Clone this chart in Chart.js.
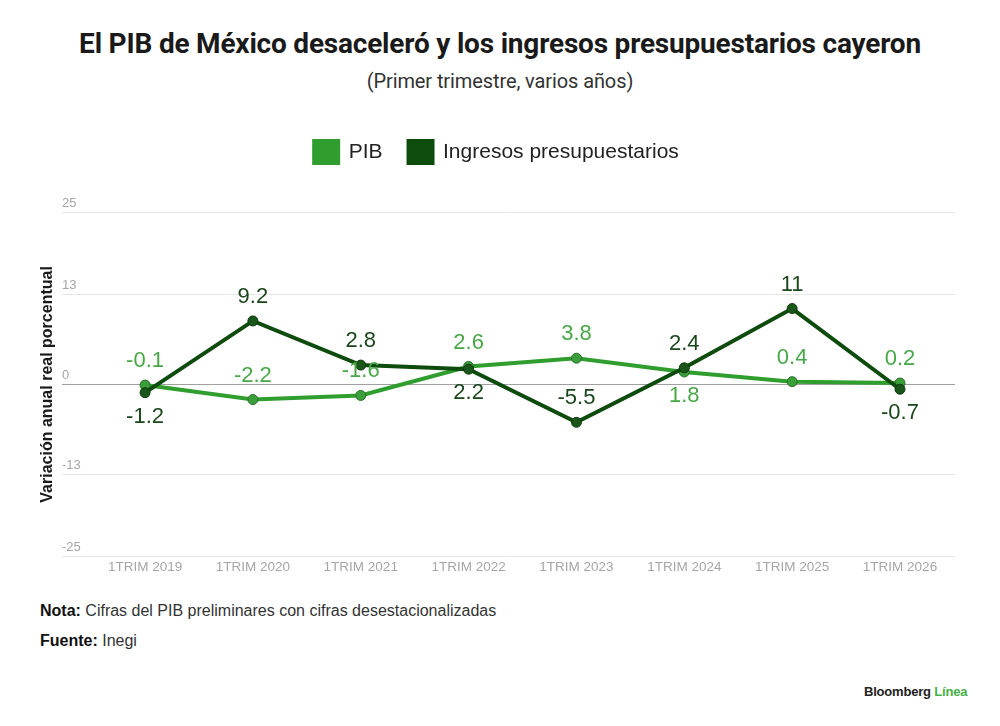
<!DOCTYPE html>
<html>
<head>
<meta charset="utf-8">
<script src="https://cdn.jsdelivr.net/npm/chart.js@4"></script>
<style>
  html, body { margin:0; padding:0; background:#fff; }
  #page { position:relative; width:1000px; height:726px; overflow:hidden; background:#fff; font-family:"Liberation Sans", Arial, sans-serif; color:#222; }
  #title { position:absolute; left:0; width:1000px; top:27px; text-align:center; font-family:Roboto, "Liberation Sans", sans-serif; font-weight:700; font-size:28px; letter-spacing:-0.2px; color:#1a1a1a; white-space:nowrap; }
  #subtitle { position:absolute; left:0; width:1000px; top:69px; text-align:center; font-family:Roboto, "Liberation Sans", sans-serif; font-size:20px; letter-spacing:-0.1px; color:#333; }
  #chartwrap { position:absolute; left:0; top:115px; width:1000px; height:470px; }
  .foot { position:absolute; left:40px; font-size:16px; color:#333; }
  .foot b { color:#111; }
  #brand { position:absolute; left:864px; top:684px; font-size:13px; font-weight:700; color:#222; letter-spacing:-0.2px; }
  #brand span { color:#45b045; font-weight:600; }
</style>
</head>
<body>
<div id="page">
  <div id="title">El PIB de México desaceleró y los ingresos presupuestarios cayeron</div>
  <div id="subtitle">(Primer trimestre, varios años)</div>
  <div id="chartwrap"><canvas id="c" width="1000" height="470"></canvas></div>
  <div class="foot" style="top:602px"><b>Nota:</b> Cifras del PIB preliminares con cifras desestacionalizadas</div>
  <div class="foot" style="top:632px"><b>Fuente:</b> Inegi</div>
  <div id="brand">Bloomberg <span>Línea</span></div>
</div>
<script>
const categories = ["1TRIM 2019","1TRIM 2020","1TRIM 2021","1TRIM 2022","1TRIM 2023","1TRIM 2024","1TRIM 2025","1TRIM 2026"];
const pib = [-0.1, -2.2, -1.6, 2.6, 3.8, 1.8, 0.4, 0.2];
const ingresos = [-1.2, 9.2, 2.8, 2.2, -5.5, 2.4, 11, -0.7];
const yTicks = [-25, -13, 0, 13, 25];
const seriesNames = ["PIB", "Ingresos presupuestarios"];

// label placement (style)
const pibLabelPos = ['above','above','above','above','above','below','above','above'];
const ingLabelPos = ['below','above','above','below','above','above','above','below'];

const PIB_COLOR = '#2f9e2f';
const ING_COLOR = '#0e4c0e';

const legendSpacing = {
  id: 'legendSpacing',
  beforeInit(chart) {
    const origFit = chart.legend.fit;
    chart.legend.fit = function () {
      origFit.bind(chart.legend)();
      this.height += 39;
    };
  }
};

const valueLabels = {
  id: 'valueLabels',
  afterDatasetsDraw(chart) {
    const ctx = chart.ctx;
    ctx.save();
    ctx.font = '22px "Liberation Sans", Arial, sans-serif';
    ctx.textAlign = 'center';
    ctx.textBaseline = 'middle';
    chart.data.datasets.forEach((ds, di) => {
      const meta = chart.getDatasetMeta(di);
      const pos = di === 0 ? pibLabelPos : ingLabelPos;
      ctx.fillStyle = di === 0 ? '#48a848' : '#1c461c';
      const src = di === 0 ? pib : ingresos;
      meta.data.forEach((pt, i) => {
        const dy = pos[i] === 'above' ? -24 : 24;
        ctx.fillText(String(src[i]), pt.x, pt.y + dy);
      });
    });
    ctx.restore();
  }
};

new Chart(document.getElementById('c'), {
  type: 'line',
  data: {
    datasets: [
      {
        label: seriesNames[0],
        data: pib.map((v, i) => ({x: i, y: v})),
        borderColor: PIB_COLOR,
        backgroundColor: PIB_COLOR,
        borderWidth: 4,
        pointRadius: 5,
        pointBackgroundColor: '#3a9e3a',
        pointBorderColor: '#2a6e2a',
        pointBorderWidth: 1,
        order: 1,
        tension: 0
      },
      {
        label: seriesNames[1],
        data: ingresos.map((v, i) => ({x: i, y: v})),
        borderColor: ING_COLOR,
        backgroundColor: ING_COLOR,
        borderWidth: 4,
        pointRadius: 5,
        pointBackgroundColor: '#1a561a',
        pointBorderColor: '#0b3a0b',
        pointBorderWidth: 1,
        order: 0,
        tension: 0
      }
    ]
  },
  options: {
    responsive: false,
    animation: false,
    devicePixelRatio: 1,
    layout: { padding: { top: 0, left: 38, right: 45, bottom: 8 } },
    plugins: {
      legend: {
        display: true,
        position: 'top',
        labels: {
          boxWidth: 24,
          boxHeight: 22,
          padding: 26,
          color: '#222',
          font: { size: 21, family: '"Liberation Sans", Arial, sans-serif' },
          sort: (a, b) => a.datasetIndex - b.datasetIndex
        }
      },
      tooltip: { enabled: false },
      title: { display: false }
    },
    scales: {
      x: {
        type: 'linear',
        min: -0.77,
        max: 7.51,
        afterBuildTicks: (s) => { s.ticks = categories.map((c, i) => ({value: i})); },
        ticks: {
          autoSkip: false,
          maxRotation: 0,
          color: '#a6a6a6',
          padding: 2,
          font: { size: 13.5, family: '"Liberation Sans", Arial, sans-serif' },
          callback: (v) => categories[v]
        },
        grid: { display: false, drawTicks: false },
        border: { display: false }
      },
      y: {
        min: -25,
        max: 25,
        afterBuildTicks: (s) => { s.ticks = yTicks.map(v => ({value: v})); },
        afterFit: (s) => { s.width = 24; },
        ticks: {
          mirror: true,
          padding: 0,
          labelOffset: -9,
          color: '#a6a6a6',
          font: { size: 13, family: '"Liberation Sans", Arial, sans-serif' }
        },
        grid: {
          drawTicks: false,
          color: (c) => c.tick && c.tick.value === 0 ? '#a0a0a0' : '#e6e6e6',
          lineWidth: 1
        },
        border: { display: false },
        title: {
          display: true,
          text: 'Variación anual real porcentual',
          color: '#1a1a1a',
          padding: { top: 0, bottom: 0 },
          font: { size: 16, weight: 'bold', family: '"Liberation Sans", Arial, sans-serif' }
        }
      }
    }
  },
  plugins: [legendSpacing, valueLabels]
});
</script>
</body>
</html>
